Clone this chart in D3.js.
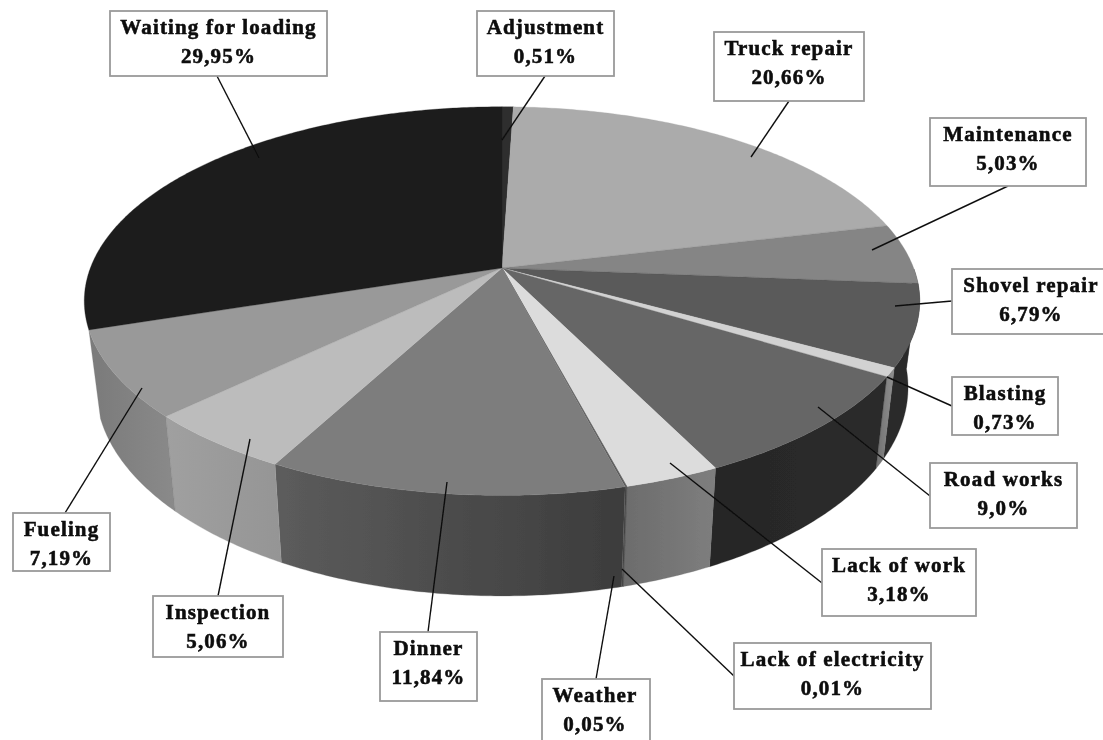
<!DOCTYPE html>
<html>
<head>
<meta charset="utf-8">
<script src="https://cdn.jsdelivr.net/npm/d3@7/dist/d3.min.js"></script>
<style>
html,body{margin:0;padding:0;background:#fff;overflow:hidden}
svg{display:block}
text{font-family:"Liberation Serif","Times New Roman",serif;font-weight:bold;font-size:21px;fill:#0c0c0c;text-anchor:middle;letter-spacing:1.15px;stroke:#0c0c0c;stroke-width:.55px}
</style>
</head>
<body>
<svg id="chart" width="1103" height="740"></svg>
<script>
const categories = ["Adjustment","Truck repair","Maintenance","Shovel repair","Blasting","Road works","Lack of work","Lack of electricity","Weather","Dinner","Inspection","Fueling","Waiting for loading"];
const values = [0.51,20.66,5.03,6.79,0.73,9.0,3.18,0.01,0.05,11.84,5.06,7.19,29.95];
const valueLabels = ["0,51%","20,66%","5,03%","6,79%","0,73%","9,0%","3,18%","0,01%","0,05%","11,84%","5,06%","7,19%","29,95%"];

const topShades = ["#2e2e2e","#ababab","#858585","#5a5a5a","#d2d2d2","#666666","#dcdcdc","#555555","#555555","#7d7d7d","#bcbcbc","#999999","#1c1c1c"];
const wallLeft  = ["#222222","#666666","#4a4a4a","#2c2c2c","#707070","#262626","#6c6c6c","#444444","#444444","#5c5c5c","#a0a0a0","#7a7a7a","#111111"];
const wallRight = ["#222222","#666666","#4a4a4a","#2c2c2c","#909090","#2c2c2c","#7e7e7e","#444444","#444444","#3c3c3c","#959595","#8a8a8a","#111111"];

// label box corners [x0,y0,x1,y1] and leader [x1,y1,x2,y2], per category
const boxes = [[477,11,614,76],[714,32,864,101],[930,118,1086,186],[952,269,1112,334],[952,377,1058,435],[930,463,1077,528],[822,549,976,616],[734,643,931,709],[542,679,650,750],[380,632,477,701],[153,596,283,657],[13,513,110,571],[110,11,327,76]];
const leaders = [[545,76,502,140],[789,101,751,157],[1008,186,872,250],[952,301,895,306],[952,406,887,377],[930,496,818,407],[822,583,670,463],[735,677,622,569],[596,679,614,576],[428,632,447,482],[218,596,250,439],[65,513,142,388],[217,76,259,158]];

const cx = 502, cy = 269, R = 412, Rk = 189, persp = 0.165, depth = 84, lowerX = 0.972;
const svg = d3.select("#chart");
const defs = svg.append("defs");
defs.append("filter").attr("id","soft").append("feGaussianBlur").attr("stdDeviation",0.55);
const root = svg.append("g").attr("filter","url(#soft)");

const arcs = d3.pie().sort(null).startAngle(0).endAngle(2*Math.PI)(values);
const line = d3.line();

function proj(theta, lower){
  const c = Math.cos(theta), s = Math.sin(theta);
  const k = 1/(1+persp*c);
  return lower
    ? [cx + lowerX*R*s*k, cy + (-Rk*c + depth)*k]
    : [cx + R*s*k, cy - Rk*c*k];
}
function samples(a,b){
  const n = Math.max(2, Math.ceil((b-a)/0.01));
  return d3.range(n+1).map(i => a+(b-a)*i/n);
}

// side walls: the waiting-for-loading slice shows no wall
const visA = Math.PI*0.5, visB = arcs[11].endAngle;
const walls = arcs.map((d,i)=>({i,a:Math.max(d.startAngle,visA),b:Math.min(d.endAngle,visB)})).filter(w=>w.b>w.a);
walls.forEach(w=>{
  const g = defs.append("linearGradient").attr("id","wall"+w.i).attr("x1",0).attr("x2",1).attr("y1",0).attr("y2",0);
  g.append("stop").attr("offset",0).attr("stop-color",wallLeft[w.i]);
  g.append("stop").attr("offset",1).attr("stop-color",wallRight[w.i]);
});
root.append("g").selectAll("path").data(walls).join("path")
  .attr("d",w=>{
    const t = samples(w.a,w.b);
    return line(t.map(x=>proj(x,false)).concat(t.slice().reverse().map(x=>proj(x,true))))+"Z";
  })
  .attr("fill",w=>`url(#wall${w.i})`)
  .attr("stroke",w=>wallLeft[w.i]).attr("stroke-width",0.3);

// top faces
root.append("g").selectAll("path").data(arcs).join("path")
  .attr("d",d=>line([[cx,cy-1]].concat(samples(d.startAngle,d.endAngle).map(x=>proj(x,false))))+"Z")
  .attr("fill",(d,i)=>topShades[i])
  .attr("stroke",(d,i)=>topShades[i]).attr("stroke-width",0.3);

// leaders
root.append("g").selectAll("line").data(leaders).join("line")
  .attr("x1",d=>d[0]).attr("y1",d=>d[1]).attr("x2",d=>d[2]).attr("y2",d=>d[3])
  .attr("stroke","#0e0e0e").attr("stroke-width",1.4);

// label boxes
const lab = root.append("g").selectAll("g").data(categories).join("g");
lab.append("rect")
  .attr("x",(d,i)=>boxes[i][0]).attr("y",(d,i)=>boxes[i][1])
  .attr("width",(d,i)=>boxes[i][2]-boxes[i][0]).attr("height",(d,i)=>boxes[i][3]-boxes[i][1])
  .attr("fill","#fff").attr("stroke","#9a9a9a").attr("stroke-width",1.8);
const midX = i => i===3 ? 1031 : i===8 ? 595 : (boxes[i][0]+boxes[i][2])/2;
lab.append("text").attr("x",(d,i)=>midX(i)).attr("y",(d,i)=>boxes[i][1]+23).text(d=>d);
lab.append("text").attr("x",(d,i)=>midX(i)).attr("y",(d,i)=>boxes[i][1]+52).text((d,i)=>valueLabels[i]);
</script>
</body>
</html>
